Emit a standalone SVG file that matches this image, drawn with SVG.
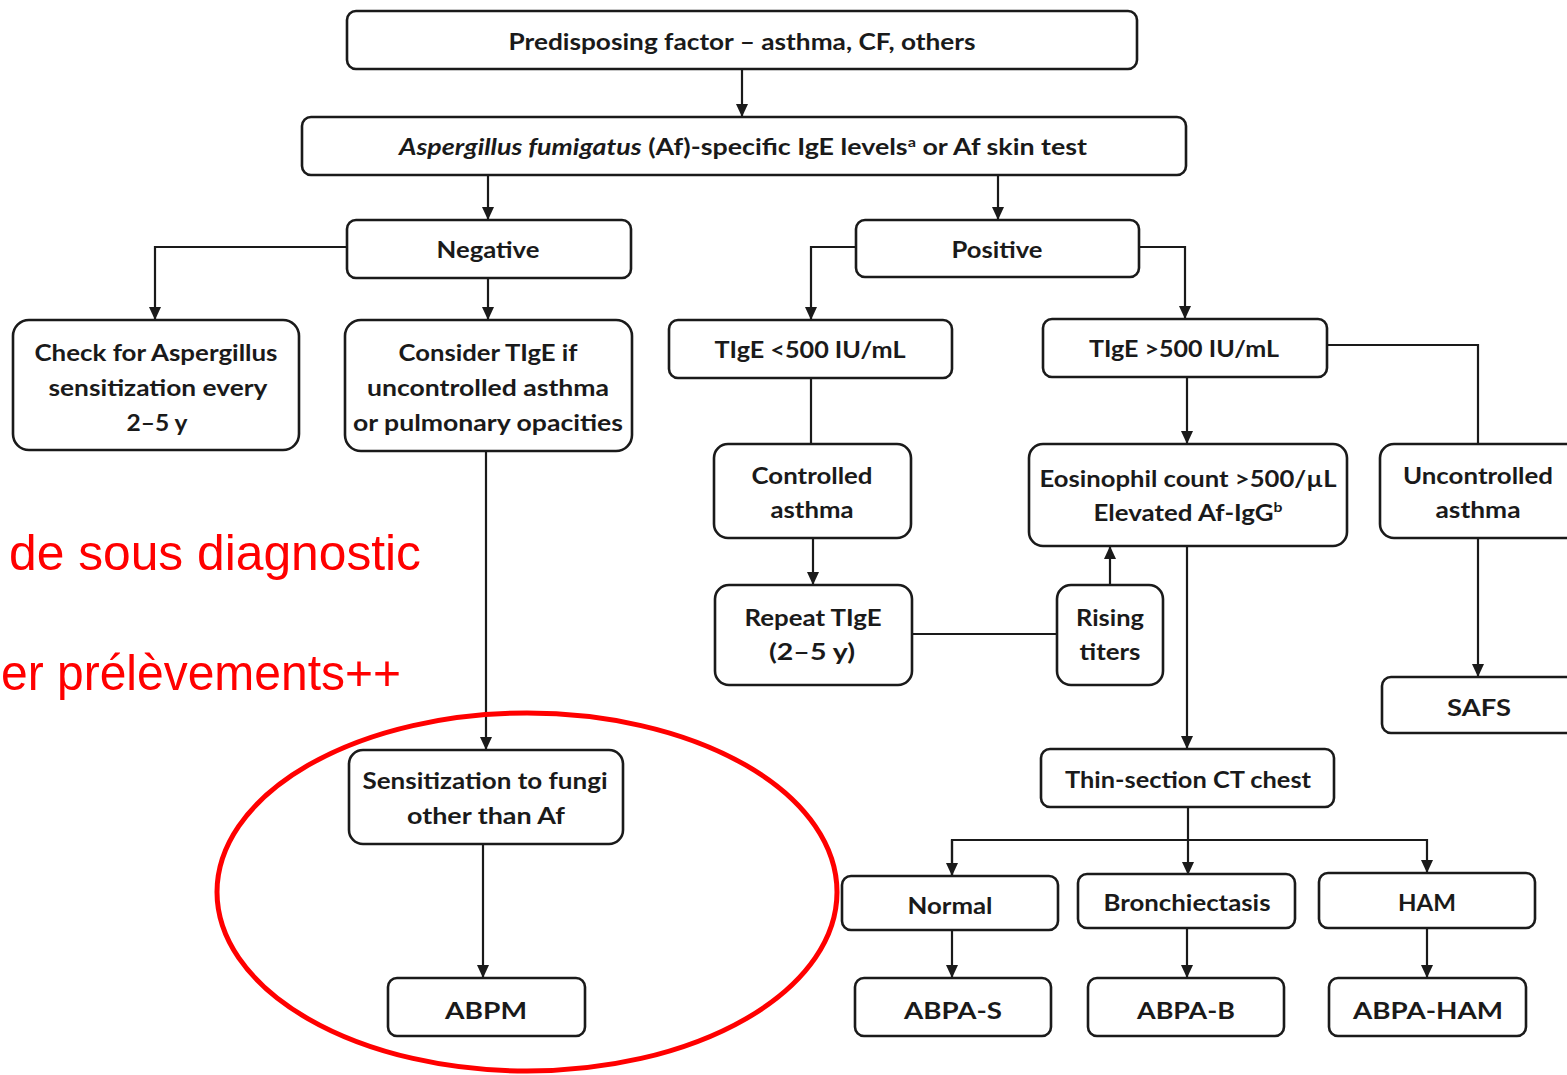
<svg xmlns="http://www.w3.org/2000/svg" width="1567" height="1075" viewBox="0 0 1567 1075">
<style>
.box{fill:#fff;stroke:#1a1a1a;stroke-width:2.6}
.t{font-family:Lato,"Open Sans",sans-serif;font-weight:bold;font-size:23px;fill:#1a1a1a;text-anchor:middle}
.c{fill:none;stroke:#1a1a1a;stroke-width:2.2}
.red{font-family:"Liberation Sans",Arial,sans-serif;font-size:50px;fill:#ff0000}
</style>
<defs>
<marker id="ah" markerWidth="14" markerHeight="12" refX="13" refY="6" orient="auto" markerUnits="userSpaceOnUse">
<path d="M0,0 L13,6 L0,12 z" fill="#1a1a1a"/>
</marker>
</defs>
<g id="connectors">
<path class="c" d="M742,69 V117" marker-end="url(#ah)"/>
<path class="c" d="M488,175 V220" marker-end="url(#ah)"/>
<path class="c" d="M998,175 V220" marker-end="url(#ah)"/>
<path class="c" d="M347,247 H155 V320" marker-end="url(#ah)"/>
<path class="c" d="M488,278 V320" marker-end="url(#ah)"/>
<path class="c" d="M486,451 V750" marker-end="url(#ah)"/>
<path class="c" d="M483,844 V978" marker-end="url(#ah)"/>
<path class="c" d="M856,247 H811 V320" marker-end="url(#ah)"/>
<path class="c" d="M1139,247 H1185 V319" marker-end="url(#ah)"/>
<path class="c" d="M811,378 V444"/>
<path class="c" d="M1187,377 V444" marker-end="url(#ah)"/>
<path class="c" d="M1327,345 H1478 V444"/>
<path class="c" d="M813,538 V585" marker-end="url(#ah)"/>
<path class="c" d="M912,634 H1057"/>
<path class="c" d="M1110,585 V546" marker-end="url(#ah)"/>
<path class="c" d="M1478,538 V677" marker-end="url(#ah)"/>
<path class="c" d="M1187,546 V749" marker-end="url(#ah)"/>
<path class="c" d="M1188,807 V875" marker-end="url(#ah)"/>
<path class="c" d="M952,875 V840 H1427 V873" marker-end="url(#ah)"/>
<path class="c" d="M952,840 V876" marker-end="url(#ah)"/>
<path class="c" d="M952,930 V978" marker-end="url(#ah)"/>
<path class="c" d="M1187,928 V978" marker-end="url(#ah)"/>
<path class="c" d="M1427,928 V978" marker-end="url(#ah)"/>
</g>
<g id="n-predisposing"><rect class="box" x="347" y="11" width="790" height="58" rx="9"/>
<text class="t" x="742" y="50" textLength="467" lengthAdjust="spacingAndGlyphs">Predisposing factor – asthma, CF, others</text></g>
<g id="n-af"><rect class="box" x="302" y="117" width="884" height="58" rx="9"/>
<text class="t" x="743" y="155" textLength="688" lengthAdjust="spacingAndGlyphs"><tspan font-style="italic">Aspergillus fumigatus</tspan> (Af)-specific IgE levels<tspan font-size="14" dy="-8">a</tspan><tspan dy="8"> or Af skin test</tspan></text></g>
<g id="n-negative"><rect class="box" x="347" y="220" width="284" height="58" rx="9"/>
<text class="t" x="488" y="258" textLength="103" lengthAdjust="spacingAndGlyphs">Negative</text></g>
<g id="n-positive"><rect class="box" x="856" y="220" width="283" height="57" rx="9"/>
<text class="t" x="997" y="258" textLength="91" lengthAdjust="spacingAndGlyphs">Positive</text></g>
<g id="n-check"><rect class="box" x="13" y="320" width="286" height="130" rx="16"/>
<text class="t" x="156" y="361" textLength="243" lengthAdjust="spacingAndGlyphs">Check for Aspergillus</text>
<text class="t" x="158" y="396" textLength="219" lengthAdjust="spacingAndGlyphs">sensitization every</text>
<text class="t" x="157" y="431" textLength="61" lengthAdjust="spacingAndGlyphs">2–5 y</text></g>
<g id="n-consider"><rect class="box" x="345" y="320" width="287" height="131" rx="16"/>
<text class="t" x="488" y="361" textLength="179" lengthAdjust="spacingAndGlyphs">Consider TIgE if</text>
<text class="t" x="488" y="396" textLength="242" lengthAdjust="spacingAndGlyphs">uncontrolled asthma</text>
<text class="t" x="488" y="431" textLength="270" lengthAdjust="spacingAndGlyphs">or pulmonary opacities</text></g>
<g id="n-tige-low"><rect class="box" x="669" y="320" width="283" height="58" rx="9"/>
<text class="t" x="810" y="358" textLength="191" lengthAdjust="spacingAndGlyphs">TIgE &lt;500 IU/mL</text></g>
<g id="n-tige-high"><rect class="box" x="1043" y="319" width="284" height="58" rx="9"/>
<text class="t" x="1184" y="357" textLength="190" lengthAdjust="spacingAndGlyphs">TIgE &gt;500 IU/mL</text></g>
<g id="n-controlled"><rect class="box" x="714" y="444" width="197" height="94" rx="14"/>
<text class="t" x="812" y="484" textLength="121" lengthAdjust="spacingAndGlyphs">Controlled</text>
<text class="t" x="812" y="518" textLength="83" lengthAdjust="spacingAndGlyphs">asthma</text></g>
<g id="n-eosinophil"><rect class="box" x="1029" y="444" width="318" height="102" rx="14"/>
<text class="t" x="1188" y="487" textLength="297" lengthAdjust="spacingAndGlyphs">Eosinophil count &gt;500/µL</text>
<text class="t" x="1188" y="521" textLength="189" lengthAdjust="spacingAndGlyphs">Elevated Af-IgG<tspan font-size="14" dy="-9">b</tspan></text></g>
<g id="n-uncontrolled"><rect class="box" x="1380" y="444" width="200" height="94" rx="14"/>
<text class="t" x="1478" y="484" textLength="150" lengthAdjust="spacingAndGlyphs">Uncontrolled</text>
<text class="t" x="1478" y="518" textLength="85" lengthAdjust="spacingAndGlyphs">asthma</text></g>
<g id="n-repeat"><rect class="box" x="715" y="585" width="197" height="100" rx="14"/>
<text class="t" x="813" y="626" textLength="137" lengthAdjust="spacingAndGlyphs">Repeat TIgE</text>
<text class="t" x="812" y="660" textLength="86" lengthAdjust="spacingAndGlyphs">(2–5 y)</text></g>
<g id="n-rising"><rect class="box" x="1057" y="585" width="106" height="100" rx="14"/>
<text class="t" x="1110" y="626" textLength="68" lengthAdjust="spacingAndGlyphs">Rising</text>
<text class="t" x="1110" y="660" textLength="61" lengthAdjust="spacingAndGlyphs">titers</text></g>
<g id="n-safs"><rect class="box" x="1382" y="677" width="200" height="56" rx="9"/>
<text class="t" x="1479" y="716" textLength="64" lengthAdjust="spacingAndGlyphs">SAFS</text></g>
<g id="n-sensitization"><rect class="box" x="349" y="750" width="274" height="94" rx="14"/>
<text class="t" x="485" y="789" textLength="245" lengthAdjust="spacingAndGlyphs">Sensitization to fungi</text>
<text class="t" x="486" y="824" textLength="158" lengthAdjust="spacingAndGlyphs">other than Af</text></g>
<g id="n-abpm"><rect class="box" x="388" y="978" width="197" height="58" rx="9"/>
<text class="t" x="486" y="1019" textLength="82" lengthAdjust="spacingAndGlyphs">ABPM</text></g>
<g id="n-ct"><rect class="box" x="1041" y="749" width="293" height="58" rx="9"/>
<text class="t" x="1188" y="788" textLength="246" lengthAdjust="spacingAndGlyphs">Thin-section CT chest</text></g>
<g id="n-normal"><rect class="box" x="842" y="876" width="216" height="54" rx="9"/>
<text class="t" x="950" y="914" textLength="85" lengthAdjust="spacingAndGlyphs">Normal</text></g>
<g id="n-bronch"><rect class="box" x="1078" y="874" width="217" height="54" rx="9"/>
<text class="t" x="1187" y="911" textLength="167" lengthAdjust="spacingAndGlyphs">Bronchiectasis</text></g>
<g id="n-ham"><rect class="box" x="1319" y="873" width="216" height="55" rx="9"/>
<text class="t" x="1427" y="911" textLength="58" lengthAdjust="spacingAndGlyphs">HAM</text></g>
<g id="n-abpa-s"><rect class="box" x="855" y="978" width="196" height="58" rx="9"/>
<text class="t" x="953" y="1019" textLength="98" lengthAdjust="spacingAndGlyphs">ABPA-S</text></g>
<g id="n-abpa-b"><rect class="box" x="1088" y="978" width="196" height="58" rx="9"/>
<text class="t" x="1186" y="1019" textLength="98" lengthAdjust="spacingAndGlyphs">ABPA-B</text></g>
<g id="n-abpa-ham"><rect class="box" x="1329" y="978" width="197" height="58" rx="9"/>
<text class="t" x="1428" y="1019" textLength="150" lengthAdjust="spacingAndGlyphs">ABPA-HAM</text></g>
<g id="annotations">
<text class="red" x="9" y="570" textLength="412" lengthAdjust="spacingAndGlyphs">de sous diagnostic</text>
<text class="red" x="1" y="690" textLength="400" lengthAdjust="spacingAndGlyphs">er prélèvements++</text>
<ellipse cx="527" cy="892" rx="310" ry="179" fill="none" stroke="#ff0000" stroke-width="5"/>
</g>
</svg>
